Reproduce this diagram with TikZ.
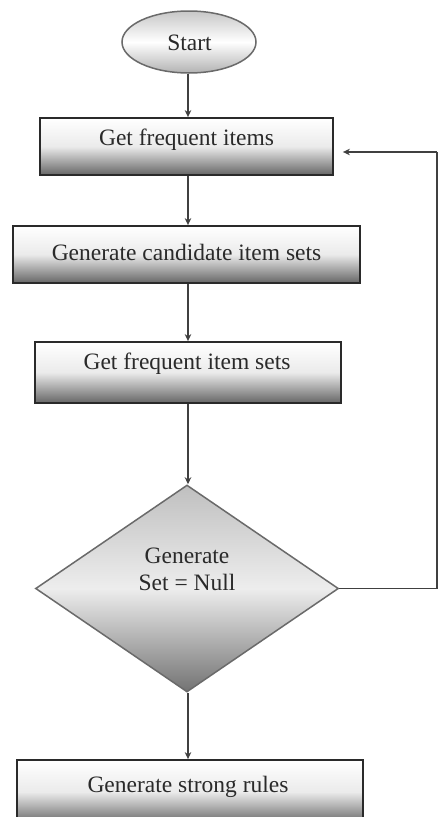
\documentclass[tikz,border=0pt]{standalone}
\usepackage{fontspec}
\setmainfont{Liberation Serif}
\usetikzlibrary{shapes.geometric,arrows.meta}

\definecolor{inkgray}{HTML}{2A2A2A}
\definecolor{linegray}{HTML}{404040}
\definecolor{rimgray}{HTML}{6A6A6A}

\tikzset{
  label font/.style={font=\fontsize{23.5}{28}\selectfont, text=inkgray},
  stepbox/.style={draw=inkgray, line width=1.8pt, rectangle, inner sep=0pt,
    top color=white, bottom color=black!60, middle color=black!8},
  startnode/.style={draw=rimgray, line width=1.5pt, ellipse, inner sep=0pt,
    top color=black!22, bottom color=black!30, middle color=white},
  decision/.style={draw=rimgray, line width=1.5pt, diamond, inner sep=0pt,
    top color=black!25, bottom color=black!55, middle color=black!7},
  flow/.style={draw=linegray, line width=1.4pt,
    -{Stealth[length=7pt,width=6.5pt]}},
  plain/.style={draw=linegray, line width=1.3pt},
}

\begin{document}
\begin{tikzpicture}[x=1pt,y=-1pt]
  \clip (0,0) rectangle (438,817);
  \fill[white] (0,0) rectangle (438,817);

  % shapes
  \node[startnode, minimum width=134pt, minimum height=62pt] (start) at (189,42) {};
  \node[stepbox, minimum width=293pt, minimum height=57pt] (b1) at (186.5,146.5) {};
  \node[stepbox, minimum width=347pt, minimum height=57pt] (b2) at (186.5,254.5) {};
  \node[stepbox, minimum width=306pt, minimum height=61pt] (b3) at (188,372.5) {};
  \node[decision, minimum width=303pt, minimum height=207pt] (dec) at (187,588.5) {};
  \node[stepbox, minimum width=346pt, minimum height=64pt] (b4) at (190,792) {};

  % texts
  \node[label font] (tstart) at (189.5,43) {Start};
  \node[label font] (t1) at (186.5,140) {Get frequent items};
  \node[label font] (t2) at (186.5,252) {Generate candidate item sets};
  \node[label font] (t3) at (187,364) {Get frequent item sets};
  \node[label font, align=center] (tdec) at (187,569) {Generate\\[-1pt]Set = Null};
  \node[label font] (t4) at (188,787) {Generate strong rules};

  % main flow
  \coordinate (axis) at (188,0);
  \draw[flow] (start.south -| axis) -- (b1.north -| axis);
  \draw[flow] (b1.south -| axis) -- (b2.north -| axis);
  \draw[flow] (b2.south -| axis) -- (b3.north -| axis);
  \draw[flow] (b3.south -| axis) -- (dec.north -| axis);
  \draw[flow] (dec.south -| axis) -- (b4.north -| axis);

  % loop back to the first step
  \coordinate (loop) at (437,152);
  \draw[plain] (dec.east) -- (dec.east -| loop) -- (loop);
  \draw[flow, line width=1.3pt, shorten >=9pt] (loop) -- (b1.east |- loop);
\end{tikzpicture}
\end{document}
